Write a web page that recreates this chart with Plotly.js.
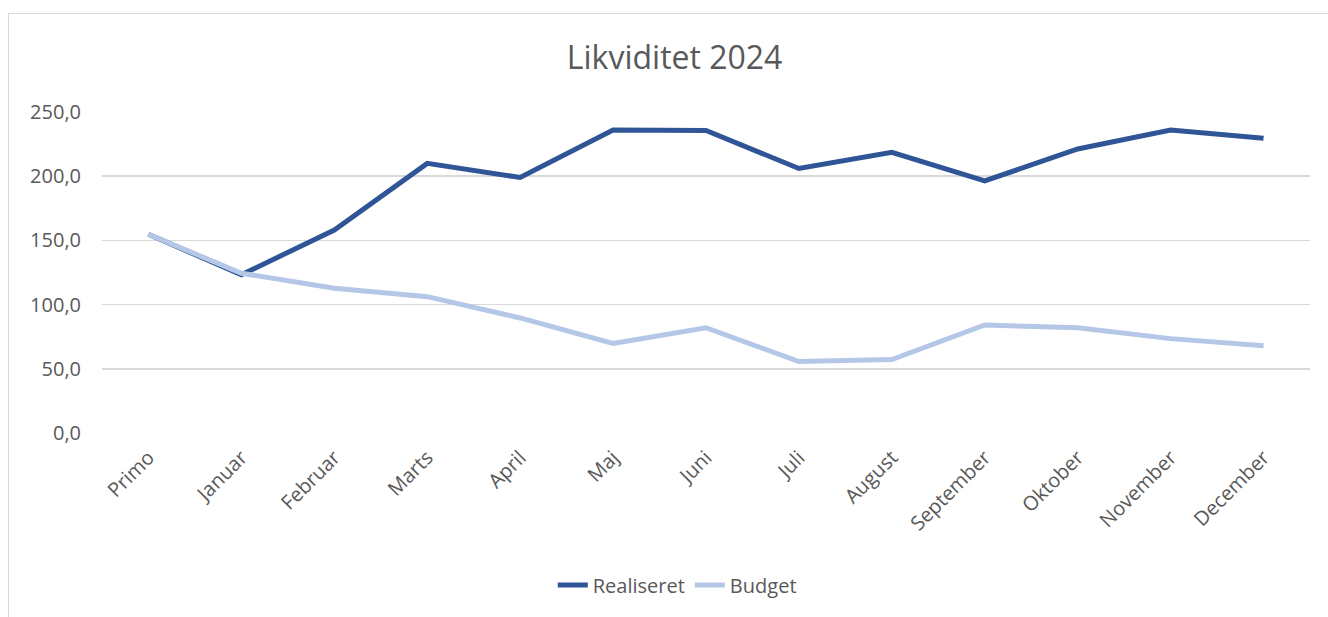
<!DOCTYPE html>
<html>
<head>
<meta charset="utf-8">
<script src="https://cdn.plot.ly/plotly-3.0.1.min.js"></script>
<style>
  html, body { margin: 0; padding: 0; background: #ffffff; }
  #wrap { position: relative; width: 1328px; height: 617px; overflow: hidden; }
  #chart { width: 1328px; height: 617px; }
  #frame { position: absolute; left: 8px; top: 13px; width: 1400px; height: 700px;
           border: 1px solid #d9d9d9; pointer-events: none; box-sizing: border-box; }
</style>
</head>
<body>
<div id="wrap">
  <div id="chart"></div>
  <div id="frame"></div>
</div>
<script>
const categories = ["Primo", "Januar", "Februar", "Marts", "April", "Maj", "Juni", "Juli", "August", "September", "Oktober", "November", "December"];
const realiseret = [154.8, 123.2, 158.1, 210.0, 199.0, 236.0, 235.6, 206.0, 218.6, 196.3, 221.2, 236.0, 229.5];
const budget = [154.8, 124.4, 112.8, 106.2, 89.6, 69.8, 82.0, 55.6, 57.2, 84.1, 82.0, 73.5, 68.0];
const seriesNames = ["Realiseret", "Budget"];
const yTicks = [0, 50, 100, 150, 200, 250];

const font = "'Open Sans', 'DejaVu Sans', sans-serif";
const grey = "#595959";

const traces = [
  { x: categories, y: realiseret, name: seriesNames[0], type: "scatter", mode: "lines",
    line: { color: "#2F5597", width: 5, shape: "linear" } },
  { x: categories, y: budget, name: seriesNames[1], type: "scatter", mode: "lines",
    line: { color: "#B4C7E7", width: 5, shape: "linear" } }
];

const layout = {
  width: 1328, height: 617,
  paper_bgcolor: "#ffffff", plot_bgcolor: "#ffffff",
  margin: { l: 102, r: 18, t: 112, b: 184 },
  separators: ",.",
  font: { family: font, color: grey, size: 20 },
  title: { text: "Likviditet 2024", font: { family: font, size: 32, color: grey },
           x: 0.508, xref: "container", xanchor: "center",
           y: 0.906, yref: "container", yanchor: "middle" },
  xaxis: {
    type: "category", range: [-0.5, 12.5], showgrid: false, zeroline: false,
    showline: false, ticks: "", tickangle: -45, ticklabelstandoff: 8,
    tickfont: { family: font, size: 20, color: grey }, fixedrange: true
  },
  yaxis: {
    range: [0, 250], tickvals: yTicks, tickformat: ".1f",
    showgrid: true, gridcolor: "#d9d9d9", gridwidth: 1.5, zeroline: false,
    showline: false, ticks: "", ticklabelstandoff: 20,
    tickfont: { family: font, size: 20, color: grey }, fixedrange: true
  },
  showlegend: true,
  legend: { orientation: "h", xref: "container", yref: "container",
            x: 0.51, xanchor: "center", y: 0.052, yanchor: "middle",
            font: { family: font, size: 20, color: grey }, bgcolor: "rgba(0,0,0,0)" }
};

Plotly.newPlot("chart", traces, layout, { displayModeBar: false, staticPlot: true });
</script>
</body>
</html>
